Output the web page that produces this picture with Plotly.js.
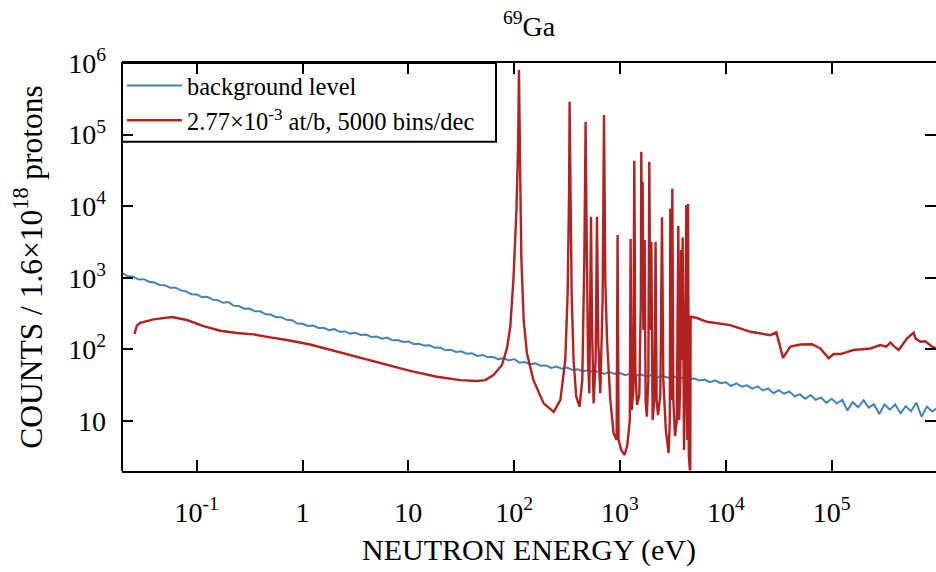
<!DOCTYPE html>
<html>
<head>
<meta charset="utf-8">
<script src="https://cdn.plot.ly/plotly-3.0.1.min.js"></script>
<style>html,body{margin:0;padding:0;background:#fff;}#chart{width:936px;height:572px;}</style>
</head>
<body>
<div id="chart"></div>
<script>
// ---- data ----
const seriesNames = ["background level", "2.77×10<sup>-3</sup> at/b, 5000 bins/dec"];

const blueE = [0.02, 0.0224, 0.0251, 0.0282, 0.0316, 0.0355, 0.0398, 0.0447, 0.0501, 0.0562, 0.0631, 0.0708, 0.0794, 0.0891,
  0.1, 0.112, 0.126, 0.141, 0.158, 0.178, 0.2, 0.224, 0.251, 0.282, 0.316, 0.355, 0.398, 0.447, 0.501, 0.562, 0.631, 0.708, 0.794, 0.891,
  1, 1.12, 1.26, 1.41, 1.58, 1.78, 2, 2.24, 2.51, 2.82, 3.16, 3.55, 3.98, 4.47, 5.01, 5.62, 6.31, 7.08, 7.94, 8.91,
  10, 11.2, 12.6, 14.1, 15.8, 17.8, 20, 22.4, 25.1, 28.2, 31.6, 35.5, 39.8, 44.7, 50.1, 56.2, 63.1, 70.8, 79.4, 89.1,
  100, 112, 126, 141, 158, 178, 200, 224, 251, 282, 316, 355, 398, 447, 501, 562, 631, 708, 794, 891,
  1000, 1120, 1260, 1410, 1580, 1780, 2000, 2240, 2510, 2820, 3160, 3550, 3980, 4470, 5010, 5620, 6310, 7080, 7940, 8910,
  10000, 11200, 12600, 14100, 15800, 17800, 20000, 22400, 25100, 28200, 31600, 35500, 39800, 44700, 50100, 56200, 63100, 70800, 79400, 89100,
  100000, 112000, 126000, 141000, 158000, 178000, 200000, 224000, 251000, 282000, 316000, 355000, 398000, 447000, 501000, 562000, 631000, 708000, 794000, 891000,
  1000000];
const blueC = [1148, 1047, 1035, 944, 955, 881, 861, 794, 785, 724, 728, 667, 646, 589,
  586, 535, 543, 495, 484, 447, 457, 407, 403, 370, 372, 340, 340, 309, 306, 281, 282, 259, 255, 229,
  228, 212, 216, 199, 200, 185, 192, 176, 178, 166, 170, 159, 161, 149, 151, 141, 146, 134, 135, 127,
  129, 119, 120, 113, 114, 105, 106, 97, 99, 92, 94, 87, 88.3, 81, 83.6, 78, 78.3, 73.1, 75.2, 70.1,
  73.3, 65, 66.7, 62.2, 63.7, 59.2, 59.7, 54.9, 57.5, 53.5, 55.6, 51.5, 52.7, 49.1, 51.3, 47.9, 49.4, 45.5, 48.3, 45.5,
  46.8, 43.7, 46.2, 43.2, 44.5, 42, 44.2, 40.3, 42.7, 40.3, 42.7, 39, 40.4, 37, 39.5, 36.7, 37.8, 34.9, 37, 33.8,
  34.7, 30.8, 33.6, 30.1, 31.4, 28.2, 30.4, 26.7, 28.4, 24.4, 26.9, 24, 25.8, 22, 23.7, 20.4, 23.1, 19.8, 21.3, 17.9,
  20.4, 17.5, 19.8, 14.0, 18.3, 15.5, 19.5, 15.4, 17.2, 12.5, 17, 14.4, 17, 12.8, 16.1, 13.7, 18, 11.5, 15.9, 13.6,
  15.2];

const redE = [0.0258, 0.0272, 0.0292, 0.0391, 0.0583, 0.0808, 0.116, 0.167, 0.240, 0.344, 0.495, 0.713,
  1.18, 2.44, 5.05, 10.4, 18.6, 31, 44.5, 53.3, 63.8, 76.7, 85.5, 91.9, 98.7, 105, 109, 111, 114, 117, 123, 132, 152, 190,
  236, 273, 304, 320, 330, 334, 341, 349, 364, 386, 415, 440, 460, 473, 483, 499, 513, 532, 544, 563, 588, 606, 624, 651,
  685, 706, 726, 754, 810, 870, 929, 949, 970, 1028, 1105, 1172, 1238, 1259, 1288, 1336, 1365, 1396, 1448, 1522, 1573,
  1589, 1615, 1636, 1661, 1709, 1746, 1792, 1851, 1892, 1934, 1977, 2033, 2109, 2169, 2218, 2287, 2404, 2494, 2566,
  2711, 2880, 2956, 2988, 3042, 3122, 3190, 3311, 3443, 3502, 3557, 3621, 3715, 3775, 3837, 3908, 3965, 4027, 4096,
  4234, 4325, 4395, 4467, 4571, 4613, 4647, 5344, 6637, 11000, 17100, 26300, 30000, 34700, 40700, 50600, 65300, 78200,
  93700, 104000, 121000, 161000, 232000, 288000, 329000, 359000, 385000, 430000, 516000, 596000, 618000, 689000,
  769000, 889000, 977000];
const redC = [164, 214, 235, 262, 283, 257, 211, 182, 169, 162, 147, 135,
  117, 88, 67, 50, 41.4, 37.2, 36.1, 37.2, 43.7, 60.4, 104, 207, 1030, 8830, 75400, 796000, 25700, 1770, 257, 88, 37.2, 17.6,
  13.4, 19.6, 71, 605, 15100, 287000, 15100, 605, 71, 21.8, 15.8, 37.2, 1770, 151000, 5150, 71, 24.3, 7110, 207, 17.6, 71, 7110, 121, 24.5,
  489, 187000, 929, 135, 19.6, 6.71, 5.41, 3950, 5.41, 3.93, 3.34, 4.61, 10.3, 3470, 14.2, 27, 43100, 51, 16.7, 23, 489,
  57500, 489, 21900, 186, 3360, 19.6, 11.5, 37.2, 41700, 186, 3180, 10.3, 19.6, 3180, 19.6, 12.1, 23, 6980, 37.2,
  7.46, 3.56, 10.3, 9310, 19.6, 17700, 19.6, 6.15, 10.3, 186, 5270, 10.3, 37.2, 2440, 71, 3660, 10.3, 3.93, 19.6,
  10400, 5.41, 10700, 3.34, 2.06, 2.1, 285, 274, 243, 218, 176, 158, 173, 76, 109, 117, 118, 103,
  75, 86, 86, 98, 103, 115, 109, 125, 112, 98, 143, 171, 143, 128,
  130, 109, 103];

const xTickVals = [0.1, 1, 10, 100, 1000, 10000, 100000];
const xTickText = ["10<sup>-1</sup>", "1", "10", "10<sup>2</sup>", "10<sup>3</sup>", "10<sup>4</sup>", "10<sup>5</sup>"];
const yTickVals = [10, 100, 1000, 10000, 100000, 1000000];
const yTickText = ["10", "10<sup>2</sup>", "10<sup>3</sup>", "10<sup>4</sup>", "10<sup>5</sup>", "10<sup>6</sup>"];

// ---- chart ----
const serif = "'Liberation Serif', 'Times New Roman', serif";
const traces = [
  {x: blueE, y: blueC, type: "scatter", mode: "lines", name: seriesNames[0],
   line: {color: "#4682b4", width: 2}},
  {x: redE, y: redC, type: "scatter", mode: "lines", name: seriesNames[1],
   line: {color: "#b22222", width: 2.4}}
];

const axisCommon = {
  type: "log", ticks: "inside", ticklen: 11, tickwidth: 2, tickcolor: "black",
  showgrid: false, zeroline: false, tickfont: {size: 28, family: serif, color: "black"}
};

const layout = {
  width: 936, height: 572,
  margin: {l: 122, r: 0, t: 63, b: 101},
  paper_bgcolor: "white", plot_bgcolor: "white",
  font: {family: serif, color: "black", size: 28},
  showlegend: true,
  title: {text: "<sup>69</sup>Ga", font: {size: 28, family: serif, color: "black"},
          xref: "paper", x: 0.5, xanchor: "center", yref: "container", y: 0.955, yanchor: "middle"},
  xaxis: Object.assign({}, axisCommon, {
    range: [-1.706, 5.986], tickvals: xTickVals, ticktext: xTickText,
    showline: true, linewidth: 2, linecolor: "black", mirror: "ticks",
    ticklabelstandoff: 15,
    title: {text: "NEUTRON ENERGY (eV)", font: {size: 30, family: serif, color: "black"}, standoff: 12}
  }),
  yaxis: Object.assign({}, axisCommon, {
    range: [0.301, 6], tickvals: yTickVals, ticktext: yTickText,
    showline: false, mirror: "ticks",
    ticklabelstandoff: 15,
    title: {text: "COUNTS / 1.6×10<sup>18</sup> protons", font: {size: 31.5, family: serif, color: "black"}, standoff: 16}
  }),
  legend: {x: 0, y: 1, xanchor: "left", yanchor: "top", bgcolor: "rgba(0,0,0,0)",
           borderwidth: 0, itemwidth: 55, font: {size: 24.5, family: serif, color: "black"}},
  shapes: [
    {type: "line", xref: "paper", yref: "paper", x0: 0, x1: 0, y0: 0, y1: 1,
     line: {color: "black", width: 2}},
    {type: "rect", xref: "paper", yref: "paper", x0: 0, x1: 0.4595, y0: 0.807, y1: 1,
     fillcolor: "white", layer: "below", line: {color: "black", width: 2}}
  ]
};

Plotly.newPlot("chart", traces, layout, {displayModeBar: false, staticPlot: true});
</script>
</body>
</html>
